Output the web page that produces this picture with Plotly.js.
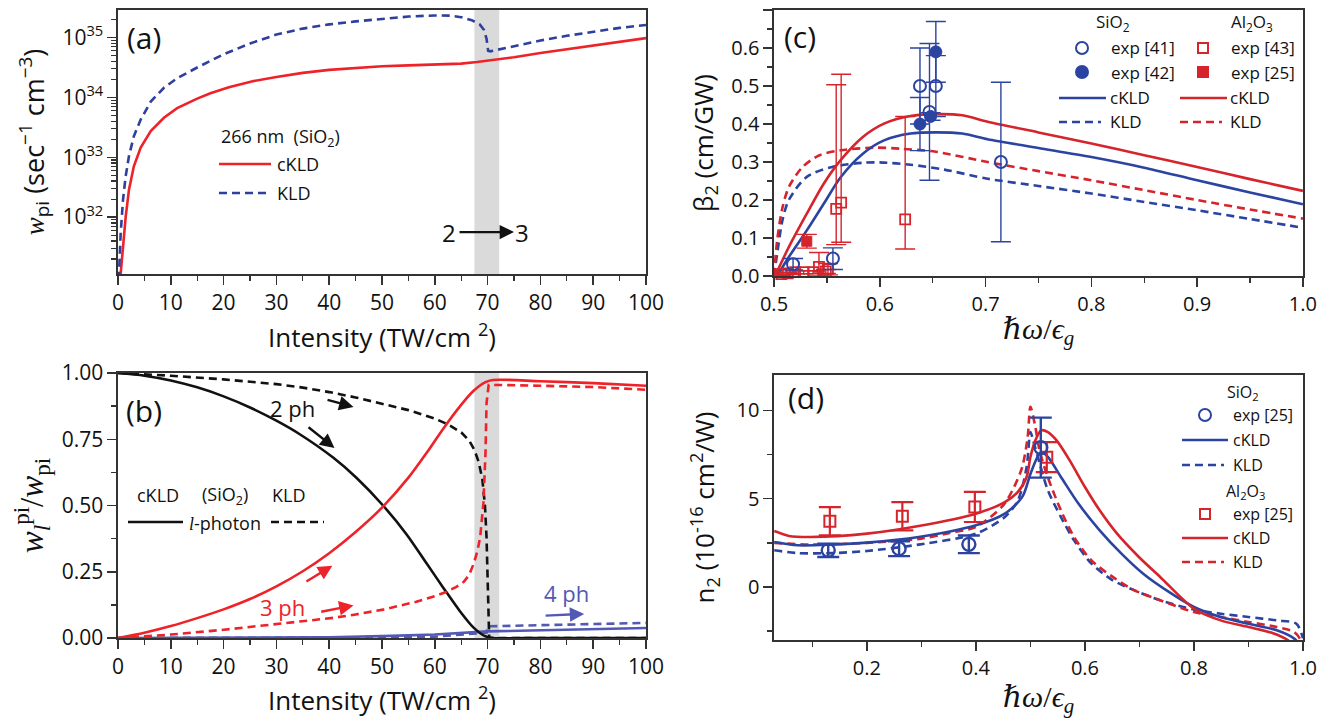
<!DOCTYPE html>
<html><head><meta charset="utf-8">
<script src="https://cdn.plot.ly/plotly-3.0.1.min.js"></script>
<style>html,body{margin:0;padding:0;background:#fff}#chart{width:1337px;height:718px}</style>
</head><body><div id="chart"></div><script>
// ---------- Panel (a): photoionization rate, 266 nm SiO2 ----------
const aX_cKLD = [0.3,0.5,0.95,1.45,2.08,3.0,4.3,6.2,8.7,11.2,15,17.5,21,25.5,30,35,40,45,50,55,60,65,68,70,75,80,90,100];
const aY_cKLD = [0.9e31,1.12e31,3.16e31,1.0e32,2.88e32,7.08e32,1.45e33,2.75e33,4.57e33,6.61e33,9.55e33,1.175e34,1.48e34,1.86e34,2.19e34,2.57e34,2.88e34,3.09e34,3.31e34,3.43e34,3.51e34,3.67e34,3.89e34,4.07e34,4.68e34,5.5e34,7.24e34,9.77e34];
const aX_KLD = [0.15,0.5,0.95,1.45,2.08,3.0,4.3,6.2,8.7,11.2,15,20,25,30,35,40,45,50,55,60,63,65,67,68.5,69.3,69.8,70.1,70.5,75,80,85,90,95,100];
const aY_KLD = [0.9e31,5.25e31,1.95e32,4.79e32,1.05e33,2.24e33,4.27e33,8.51e33,1.45e34,2.09e34,3.16e34,5.25e34,7.94e34,1.12e35,1.41e35,1.66e35,1.86e35,2.04e35,2.24e35,2.34e35,2.32e35,2.19e35,1.95e35,1.66e35,1.35e35,9.55e34,6.03e34,5.89e34,7.24e34,8.91e34,1.07e35,1.26e35,1.45e35,1.62e35];
const aTickVals = [1e32,1e33,1e34,1e35];
const aTickText = ['10<sup>32</sup>','10<sup>33</sup>','10<sup>34</sup>','10<sup>35</sup>'];
const bandX = [67.5,72.2];

// ---------- Panel (b): l-photon fractions ----------
const bX_c2 = [0,5,10,15,20,25,30,34.5,40.8,45.2,50.2,54.7,58.5,61.6,64.8,67.3,69.5,71,80,90,100];
const bY_c2 = [1.0,0.99,0.972,0.946,0.912,0.87,0.82,0.768,0.68,0.604,0.5,0.39,0.28,0.19,0.10,0.04,0.007,0,0,0,0];
const bX_c3 = [0,5,10,15,20,25,30,35,40,45,50,55,58.5,61.6,64.8,67.3,69.5,71,80,90,100];
const bY_c3 = [0,0.02,0.045,0.075,0.108,0.147,0.195,0.252,0.32,0.4,0.492,0.605,0.7,0.79,0.875,0.932,0.965,0.974,0.969,0.962,0.952];
const bX_c4 = [0,20,30,40,50,60,70,80,90,100];
const bY_c4 = [0,0.0005,0.001,0.003,0.007,0.013,0.025,0.030,0.034,0.038];
const bX_k2 = [0,10,20,30,35,40,45,50,55,60,62.5,65,66.5,67.5,68.3,69,69.5,69.8,70,70.15,70.3,80,90,100];
const bY_k2 = [1.0,0.99,0.976,0.958,0.945,0.928,0.908,0.885,0.86,0.828,0.806,0.776,0.745,0.71,0.665,0.6,0.5,0.38,0.2,0.02,0,0,0,0];
const bX_k3 = [0,10,20,30,36,40.8,45,50.2,56.5,60,62.3,64,65.5,66.5,67.4,68.1,68.6,69.2,69.6,69.8,70.2,72,80,90,100];
const bY_k3 = [0,0.013,0.031,0.053,0.064,0.076,0.089,0.107,0.137,0.158,0.175,0.192,0.212,0.238,0.282,0.33,0.382,0.508,0.697,0.886,0.955,0.955,0.952,0.947,0.937];
const bX_k4 = [0,40,50,60,68,69.8,70,80,90,100];
const bY_k4 = [0,0.001,0.002,0.005,0.015,0.02,0.044,0.048,0.053,0.057];

// ---------- Panel (c): beta2 ----------
const cX_Si_c = [0.503,0.514,0.531,0.547,0.563,0.584,0.604,0.629,0.653,0.678,0.702,0.75,0.8,0.85,0.9,0.95,1.0];
const cY_Si_c = [0,0.05,0.12,0.19,0.26,0.322,0.357,0.375,0.378,0.375,0.36,0.337,0.313,0.285,0.252,0.22,0.189];
const cX_Al_c = [0.501,0.514,0.531,0.547,0.563,0.584,0.604,0.629,0.653,0.678,0.702,0.75,0.8,0.85,0.9,0.95,1.0];
const cY_Al_c = [0,0.076,0.164,0.243,0.305,0.366,0.401,0.421,0.426,0.423,0.406,0.378,0.349,0.318,0.287,0.255,0.224];
const cX_Al_k = [0.5,0.503,0.508,0.514,0.527,0.543,0.563,0.596,0.62,0.653,0.702,0.75,0.8,0.85,0.9,0.95,1.0];
const cY_Al_k = [0,0.094,0.18,0.234,0.287,0.318,0.331,0.338,0.335,0.327,0.3,0.276,0.252,0.226,0.2,0.175,0.151];
const cX_Si_k = [0.5,0.503,0.508,0.514,0.531,0.555,0.584,0.6,0.629,0.661,0.702,0.75,0.8,0.85,0.9,0.95,1.0];
const cY_Si_k = [0,0.059,0.147,0.2,0.261,0.287,0.298,0.299,0.293,0.28,0.256,0.237,0.217,0.195,0.173,0.15,0.127];
// exp [41] SiO2 (open circles)
const c41X = [0.518,0.5557,0.638,0.647,0.653,0.7145];
const c41Y = [0.031,0.046,0.5,0.432,0.5,0.3];
const c41Eup = [0.015,0.028,0.1,0.18,0.08,0.21];
const c41Edn = [0.015,0.029,0.1,0.18,0.08,0.21];
// exp [42] SiO2 (filled circles)
const c42X = [0.638,0.648,0.653];
const c42Y = [0.4,0.42,0.59];
const c42E = [0.07,0.01,0.08];
// exp [43] Al2O3 (open squares)
const c43X = [0.507,0.513,0.52,0.528,0.537,0.5425,0.549,0.551,0.5588,0.5635,0.624];
const c43Y = [0.005,0.007,0.01,0.01,0.01,0.024,0.012,0.018,0.1765,0.193,0.149];
const c43Eup = [0.003,0.003,0.004,0.004,0.004,0.038,0.005,0.015,0.327,0.338,0.271];
const c43Edn = [0.003,0.003,0.004,0.004,0.004,0.024,0.005,0.015,0.094,0.104,0.078];
// exp [25] Al2O3 (filled square)
const c25X = [0.531];
const c25Y = [0.0915];
const c25E = [0.018];

// ---------- Panel (d): n2 ----------
const dX_Al_c = [0.03,0.057,0.097,0.2,0.295,0.4,0.453,0.477,0.493,0.5,0.509,0.52,0.532,0.548,0.572,0.6,0.627,0.659,0.699,0.738,0.8,0.849,0.9,0.944,0.972,0.985];
const dY_Al_c = [3.17,2.89,2.83,3.02,3.45,4.15,4.81,5.38,6.23,7.36,8.3,8.87,8.77,8.3,7.17,5.66,4.34,3.02,1.7,0.57,-1.23,-1.89,-2.26,-2.6,-3.0,-3.4];
const dX_Al_k = [0.03,0.1,0.2,0.3,0.35,0.4,0.45,0.47,0.485,0.495,0.5,0.509,0.517,0.532,0.556,0.58,0.612,0.651,0.691,0.738,0.8,0.849,0.9,0.952,0.984,0.996,1.0];
const dY_Al_k = [2.5,2.4,2.5,2.74,3.05,3.4,4.62,5.66,6.8,8.5,10.2,9.06,7.7,6.2,4.34,2.83,1.5,0.57,-0.19,-0.75,-1.42,-1.7,-1.98,-2.26,-2.55,-3.0,-3.3];
const dX_Si_c = [0.03,0.073,0.137,0.2,0.295,0.4,0.453,0.485,0.5,0.513,0.52,0.532,0.556,0.588,0.627,0.667,0.707,0.754,0.8,0.849,0.9,0.952,0.984,0.995];
const dY_Si_c = [2.55,2.36,2.4,2.51,2.83,3.49,4.15,5.1,6.4,7.36,7.64,7.36,6.23,4.72,3.21,1.89,0.75,-0.28,-1.13,-1.7,-2.08,-2.45,-2.92,-3.3];
const dX_Si_k = [0.03,0.073,0.137,0.2,0.295,0.4,0.453,0.477,0.493,0.5,0.505,0.517,0.532,0.556,0.58,0.612,0.651,0.691,0.738,0.8,0.849,0.9,0.952,0.988,1.0];
const dY_Si_k = [2.08,1.92,1.92,2.04,2.4,3.02,3.96,4.9,6.79,8.77,8.3,6.98,5.47,3.96,2.64,1.32,0.38,-0.19,-0.75,-1.28,-1.51,-1.7,-1.89,-2.08,-2.9];
const dSiX = [0.129,0.259,0.387,0.519];
const dSiY = [2.075,2.17,2.415,7.89];
const dSiE = [0.38,0.42,0.5,1.7];
const dAlX = [0.132,0.265,0.398,0.530];
const dAlY = [3.72,4.0,4.53,7.35];
const dAlE = [0.8,0.8,0.85,0.85];

// ---------- styling ----------
const RED_A = '#ee2229', BLUE_A = '#2e3f9e', BLACK = '#111';
const BLUE_B = '#5258b6';
const RED_C = '#d6242c', BLUE_C = '#2b44a2';
const SANS = '"Liberation Sans Narrow", "Open Sans", sans-serif';
const SERIF = '"Liberation Serif", "DejaVu Serif", serif';
const DASH = '8px,5px';
const W = 1337, H = 718;
const px = v => v / W, py = v => 1 - v / H;

function line(x, y, xa, ya, color, dash, shape, width) {
  return {x: x, y: y, xaxis: xa, yaxis: ya, type: 'scatter', mode: 'lines',
    line: {color: color, width: width || 2.6, dash: dash || 'solid', shape: shape || 'linear', smoothing: 0.8},
    hoverinfo: 'skip', showlegend: false};
}
function pts(x, y, eu, ed, xa, ya, color, symbol, size, lw, capw, eth) {
  return {x: x, y: y, xaxis: xa, yaxis: ya, type: 'scatter', mode: 'markers', showlegend: false,
    marker: {symbol: symbol, size: size, color: color, line: {color: color, width: lw}},
    error_y: {type: 'data', symmetric: false, array: eu, arrayminus: ed, color: color, thickness: eth, width: capw},
    cliponaxis: false};
}

const traces = [
  // (a)
  line(aX_cKLD, aY_cKLD, 'x', 'y', RED_A, 'solid', 'linear'),
  line(aX_KLD, aY_KLD, 'x', 'y', BLUE_A, DASH, 'linear'),
  // (b)
  line(bX_c4, bY_c4, 'x2', 'y2', BLUE_B, 'solid', 'linear'),
  line(bX_k4, bY_k4, 'x2', 'y2', BLUE_B, DASH, 'linear'),
  line(bX_c2, bY_c2, 'x2', 'y2', BLACK, 'solid', 'spline'),
  line(bX_k2, bY_k2, 'x2', 'y2', BLACK, DASH, 'linear'),
  line(bX_c3, bY_c3, 'x2', 'y2', RED_A, 'solid', 'spline'),
  line(bX_k3, bY_k3, 'x2', 'y2', RED_A, DASH, 'linear'),
  // (c)
  line(cX_Si_k, cY_Si_k, 'x3', 'y3', BLUE_C, DASH, 'spline'),
  line(cX_Al_k, cY_Al_k, 'x3', 'y3', RED_C, DASH, 'spline'),
  line(cX_Si_c, cY_Si_c, 'x3', 'y3', BLUE_C, 'solid', 'spline'),
  line(cX_Al_c, cY_Al_c, 'x3', 'y3', RED_C, 'solid', 'spline'),
  pts(c43X, c43Y, c43Eup, c43Edn, 'x3', 'y3', RED_C, 'square-open', 10, 1.8, 10, 1.4),
  pts(c25X, c25Y, c25E, c25E, 'x3', 'y3', RED_C, 'square', 10, 1, 10, 1.4),
  pts(c41X, c41Y, c41Eup, c41Edn, 'x3', 'y3', BLUE_C, 'circle-open', 12, 2, 10, 1.4),
  pts(c42X, c42Y, c42E, c42E, 'x3', 'y3', BLUE_C, 'circle', 12, 1, 10, 1.4),
  // (d)
  line(dX_Si_k, dY_Si_k, 'x4', 'y4', BLUE_C, DASH, 'spline'),
  line(dX_Al_k, dY_Al_k, 'x4', 'y4', RED_C, DASH, 'spline'),
  line(dX_Si_c, dY_Si_c, 'x4', 'y4', BLUE_C, 'solid', 'spline'),
  line(dX_Al_c, dY_Al_c, 'x4', 'y4', RED_C, 'solid', 'spline'),
  pts(dAlX, dAlY, dAlE, dAlE, 'x4', 'y4', RED_C, 'square-open', 11, 2, 11, 2.2),
  pts(dSiX, dSiY, dSiE, dSiE, 'x4', 'y4', BLUE_C, 'circle-open', 13, 2.4, 11, 2.4)
];

const axBase = {showline: true, mirror: true, linecolor: '#333', linewidth: 1.6, ticks: 'outside',
  ticklen: 9, tickwidth: 1.5, tickcolor: '#333', showgrid: false, zeroline: false,
  tickfont: {family: SANS, size: 21, color: '#111'}};
function ax(o) { return Object.assign({}, axBase, o); }
const minorLin = (vals) => ({tickmode: 'array', tickvals: vals, ticks: 'outside', ticklen: 5, tickwidth: 1.4, tickcolor: '#333'});

const logMinor = [];
[31,32,33,34,35].forEach(e => { for (let m = 2; m <= 9; m++) logMinor.push(m * Math.pow(10, e)); });

const xDomL = [px(118), px(646)], xDomR = [px(774), px(1303)];
const layout = {
  width: W, height: H, margin: {l: 0, r: 0, t: 0, b: 0},
  paper_bgcolor: '#fff', plot_bgcolor: '#fff', showlegend: false,
  font: {family: SANS, color: '#111'},
  xaxis: ax({domain: xDomL, anchor: 'y', range: [0, 100], tickmode: 'array', tickvals: [0,10,20,30,40,50,60,70,80,90,100],
    minor: minorLin([5,15,25,35,45,55,65,75,85,95]),
    title: {text: 'Intensity (TW/cm <sup>2</sup>)', font: {family: SANS, size: 26}, standoff: 14}}),
  yaxis: ax({domain: [py(274), py(10)], anchor: 'x', type: 'log', range: [31.05, 35.46], tickmode: 'array',
    tickvals: aTickVals, ticktext: aTickText,
    minor: {tickmode: 'array', tickvals: logMinor, ticks: 'outside', ticklen: 5, tickwidth: 1.2, tickcolor: '#333'},
    title: {text: '<span style="font-family:Liberation Serif"><i>w</i></span><sub>pi</sub> (sec<sup>−1</sup> cm<sup>−3</sup>)', font: {family: SANS, size: 27}, standoff: 10}}),
  xaxis2: ax({domain: xDomL, anchor: 'y2', range: [0, 100], tickmode: 'array', tickvals: [0,10,20,30,40,50,60,70,80,90,100],
    minor: minorLin([5,15,25,35,45,55,65,75,85,95]),
    title: {text: 'Intensity (TW/cm <sup>2</sup>)', font: {family: SANS, size: 26}, standoff: 6}}),
  yaxis2: ax({domain: [py(638), py(373)], anchor: 'x2', range: [0, 1.0001], tickmode: 'array', tickvals: [0,0.25,0.5,0.75,1],
    tickformat: '.2f', minor: minorLin([0.125,0.375,0.625,0.875]),
    title: {text: '<i>w</i><sub><i>l</i></sub><sup>pi</sup>/<i>w</i><sub>pi</sub>', font: {family: SERIF, size: 33}, standoff: 8}}),
  xaxis3: ax({domain: xDomR, anchor: 'y3', range: [0.5, 1.0001], tickmode: 'array', tickvals: [0.5,0.6,0.7,0.8,0.9,1.0], tickformat: '.1f',
    tickfont: {family: SANS, size: 20, color: '#111'},
    minor: minorLin([0.55,0.65,0.75,0.85,0.95]),
    title: {text: '<i>ℏω</i>/<i>ϵ<sub>g</sub></i>', font: {family: SERIF, size: 30}, standoff: 2}}),
  yaxis3: ax({domain: [py(276), py(10)], anchor: 'x3', range: [0, 0.7002], tickmode: 'array', tickvals: [0,0.1,0.2,0.3,0.4,0.5,0.6,0.7], tickformat: '.1f',
    tickfont: {family: SANS, size: 20, color: '#111'},
    minor: minorLin([0.05,0.15,0.25,0.35,0.45,0.55,0.65]),
    title: {text: 'β<sub>2</sub> (cm/GW)', font: {family: SANS, size: 26}, standoff: 10}}),
  xaxis4: ax({domain: xDomR, anchor: 'y4', range: [0.0295, 1.0001], tickmode: 'array', tickvals: [0.2,0.4,0.6,0.8,1.0], tickformat: '.1f',
    tickfont: {family: SANS, size: 20, color: '#111'},
    minor: minorLin([0.1,0.3,0.5,0.7,0.9]),
    title: {text: '<i>ℏω</i>/<i>ϵ<sub>g</sub></i>', font: {family: SERIF, size: 30}, standoff: 6}}),
  yaxis4: ax({domain: [py(640), py(375)], anchor: 'x4', range: [-3, 12], tickmode: 'array', tickvals: [0,5,10],
    tickfont: {family: SANS, size: 20, color: '#111'},
    minor: minorLin([-2.5,2.5,7.5]),
    title: {text: 'n<sub>2</sub> (10<sup>-16</sup> cm<sup>2</sup>/W)', font: {family: SANS, size: 26}, standoff: 14}}),
  shapes: [],
  annotations: []
};

const S = layout.shapes, A = layout.annotations;
// gray transition bands
S.push({type: 'rect', xref: 'x', yref: 'y domain', x0: bandX[0], x1: bandX[1], y0: 0, y1: 1, fillcolor: '#dadada', line: {width: 0}, layer: 'below'});
S.push({type: 'rect', xref: 'x2', yref: 'y2 domain', x0: bandX[0], x1: bandX[1], y0: 0, y1: 1, fillcolor: '#dadada', line: {width: 0}, layer: 'below'});

function txt(x, y, text, size, color, xanchor, family) {
  A.push({xref: 'paper', yref: 'paper', x: px(x), y: py(y), text: text, showarrow: false,
    xanchor: xanchor || 'center', yanchor: 'middle', font: {family: family || SANS, size: size, color: color || '#111'}});
}
function hline(x0, x1, y, color, dash, w) {
  S.push({type: 'line', xref: 'paper', yref: 'paper', x0: px(x0), x1: px(x1), y0: py(y), y1: py(y),
    line: {color: color, width: w || 2.6, dash: dash || 'solid'}});
}
function circ(x, y, r, color, filled) {
  S.push({type: 'circle', xref: 'paper', yref: 'paper', x0: px(x - r), x1: px(x + r), y0: py(y + r), y1: py(y - r),
    line: {color: color, width: 2}, fillcolor: filled ? color : 'rgba(0,0,0,0)'});
}
function sq(x, y, r, color, filled) {
  S.push({type: 'rect', xref: 'paper', yref: 'paper', x0: px(x - r), x1: px(x + r), y0: py(y + r), y1: py(y - r),
    line: {color: color, width: 2}, fillcolor: filled ? color : 'rgba(0,0,0,0)'});
}
function arrow(xa, ya, x0, y0, x1, y1, color) {
  A.push({xref: xa, yref: ya, axref: xa, ayref: ya, x: x1, y: y1, ax: x0, ay: y0, text: '', showarrow: true,
    arrowhead: 2, arrowsize: 1.2, arrowwidth: 2.4, arrowcolor: color});
}

// (a) labels and legend
txt(144, 38, '(a)', 30);
txt(219, 137, '266 nm  (SiO<sub>2</sub>)', 18, '#111', 'left');
hline(219, 271, 164, RED_A);
txt(275, 164, 'cKLD', 18, '#111', 'left');
hline(219, 271, 193, BLUE_A, DASH);
txt(275, 193, 'KLD', 18, '#111', 'left');
A.push({xref: 'x', yref: 'y', x: 62.7, y: 31.75, text: '2', showarrow: false, font: {family: SANS, size: 24, color: '#111'}});
A.push({xref: 'x', yref: 'y', x: 76.5, y: 31.75, text: '3', showarrow: false, font: {family: SANS, size: 24, color: '#111'}});
arrow('x', 'y', 64.4, 31.75, 75.0, 31.75, '#111');

// (b) labels and legend
txt(144, 410, '(b)', 30);
txt(292, 408, '2 ph', 22);
arrow('x2', 'y2', 35.8, 0.80, 41.0, 0.717, '#111');
arrow('x2', 'y2', 39.4, 0.9, 44.6, 0.872, '#111');
txt(282, 607, '3 ph', 22, RED_A);
arrow('x2', 'y2', 35.4, 0.21, 40.6, 0.273, RED_A);
arrow('x2', 'y2', 38.2, 0.098, 44.6, 0.123, RED_A);
txt(566, 593, '4 ph', 22, BLUE_B);
arrow('x2', 'y2', 80.7, 0.084, 88.3, 0.091, BLUE_B);
txt(158, 495, 'cKLD', 18);
txt(225, 495, '(SiO<sub>2</sub>)', 18);
txt(288, 495, 'KLD', 18);
hline(128, 183, 522, BLACK);
txt(225, 523, '<span style="font-family:Liberation Serif"><i>l</i></span>-photon', 18);
hline(271, 324, 522, BLACK, DASH);

// (c) labels and legend
txt(800, 36, '(c)', 30);
txt(1113, 23, 'SiO<sub>2</sub>', 17);
txt(1252, 23, 'Al<sub>2</sub>O<sub>3</sub>', 17);
circ(1082, 48, 6, BLUE_C, false); txt(1109, 48, 'exp [41]', 17, '#111', 'left');
circ(1082, 72, 6, BLUE_C, true);  txt(1109, 72, 'exp [42]', 17, '#111', 'left');
hline(1059, 1106, 98, BLUE_C); txt(1108, 98, 'cKLD', 17, '#111', 'left');
hline(1059, 1101, 122, BLUE_C, DASH); txt(1108, 122, 'KLD', 17, '#111', 'left');
sq(1203, 48, 5, RED_C, false); txt(1229, 48, 'exp [43]', 17, '#111', 'left');
sq(1203, 72, 5, RED_C, true);  txt(1229, 72, 'exp [25]', 17, '#111', 'left');
hline(1180, 1227, 98, RED_C); txt(1228, 98, 'cKLD', 17, '#111', 'left');
hline(1180, 1222, 122, RED_C, DASH); txt(1228, 122, 'KLD', 17, '#111', 'left');

// (d) labels and legend
txt(806, 398, '(d)', 30);
txt(1243, 392, 'SiO<sub>2</sub>', 16);
circ(1205, 415, 6, BLUE_C, false); txt(1231, 415, 'exp [25]', 16, '#111', 'left');
hline(1182, 1228, 440, BLUE_C); txt(1231, 440, 'cKLD', 16, '#111', 'left');
hline(1182, 1224, 465, BLUE_C, DASH); txt(1231, 465, 'KLD', 16, '#111', 'left');
txt(1245, 491, 'Al<sub>2</sub>O<sub>3</sub>', 16);
sq(1205, 514, 5, RED_C, false); txt(1231, 514, 'exp [25]', 16, '#111', 'left');
hline(1182, 1228, 538, RED_C); txt(1231, 538, 'cKLD', 16, '#111', 'left');
hline(1182, 1224, 562, RED_C, DASH); txt(1231, 562, 'KLD', 16, '#111', 'left');

Plotly.newPlot('chart', traces, layout, {staticPlot: true, displayModeBar: false});
</script></body></html>
